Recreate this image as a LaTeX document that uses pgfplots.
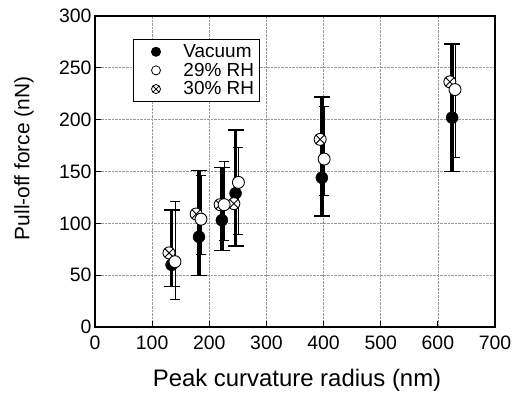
\documentclass[border=0pt]{standalone}
\usepackage{fontspec}
\setmainfont{Liberation Sans}
\usepackage{pgfplots}
\pgfplotsset{compat=1.18}
\usetikzlibrary{plotmarks}
\begin{document}
\begin{tikzpicture}
\begin{axis}[
  scale only axis, width=400bp, height=311bp,
  xmin=0, xmax=700, ymin=0, ymax=300,
  xtick={0,100,...,700}, ytick={0,50,...,300},
  tick align=inside, xtick pos=bottom, ytick pos=left,
  major tick length=6bp,
  grid=major, grid style={gray!80, densely dotted, line width=0.7pt},
  axis line style={line width=1.2pt},
  tick style={black, line width=0.8pt},
  /pgf/number format/assume math mode=true,
  ticklabel style={font=\fontsize{19.5}{19.5}\selectfont},
  xticklabel style={yshift=-5bp},
  xlabel={Peak curvature radius (nm)},
  ylabel={Pull-off force (nN)},
  xlabel style={font=\fontsize{24}{24}\selectfont, at={(axis description cs:0.505,-0.17)}, anchor=center},
  ylabel style={font=\fontsize{21}{21}\selectfont, at={(axis description cs:-0.1775,0.542)}, anchor=center},
  legend style={at={(axis description cs:0.095,0.926)}, anchor=north west, draw=black, line width=1pt,
    font=\fontsize{19}{19}\selectfont, inner xsep=4bp, inner ysep=3bp, row sep=0pt},
  legend cell align=left,
  legend image code/.code={\node[inner sep=0pt, minimum width=44bp, minimum height=1bp, draw=none, fill=none] at (22bp,0bp) {}; \draw[#1] plot coordinates {(22bp,0bp)};},
]
\addlegendimage{only marks, mark=*, mark size=4.5bp, black, mark options={xshift=19bp}}
\addlegendentry{Vacuum}
\addlegendimage{only marks, mark=*, mark size=4.5bp, black, fill=white, mark options={line width=0.8pt, xshift=19bp}}
\addlegendentry{29\% RH}
\addlegendimage{only marks, mark=otimes*, mark size=4.5bp, black, fill=white, mark options={line width=0.8pt, xshift=19bp}}
\addlegendentry{30\% RH}

% Vacuum
\addplot[forget plot, only marks, mark=*, mark size=6bp, black,
  error bars/.cd, y dir=both, y explicit,
  error bar style={line width=3.5bp},
  error mark options={rotate=90, mark size=8bp, line width=1.3pt}]
coordinates {
 (134,60) += (0,53) -= (0,21)
 (182,87) += (0,64) -= (0,37)
 (222,103) += (0,51) -= (0,29)
 (246,129) += (0,61) -= (0,51)
 (397,144) += (0,78) -= (0,37)
 (625,202) += (0,71) -= (0,52)
};

% 30% RH
\addplot[forget plot, only marks, mark=otimes*, mark size=6bp, black, fill=white,
  mark options={line width=0.9pt}]
coordinates {
 (129.5,71.5) (177,109) (219,118) (243,119) (394,181) (621,236.5)
};

% 29% RH
\addplot[forget plot, only marks, mark=*, mark size=6bp, black, fill=white,
  mark options={line width=0.9pt},
  error bars/.cd, y dir=both, y explicit,
  error bar style={line width=0.8pt, black},
  error mark options={rotate=90, mark size=5bp, line width=0.8pt, black}]
coordinates {
 (140,63) += (0,58) -= (0,36)
 (185.5,104) += (0,42) -= (0,34)
 (226,118) += (0,42) -= (0,34)
 (251,139.5) += (0,33.5) -= (0,50.5)
 (401,162) += (0,50.6) -= (0,35)
 (630,229) += (0,44) -= (0,65)
};
\end{axis}
\pgfresetboundingbox
\path[use as bounding box] ([xshift=-95bp,yshift=-68bp]current axis.south west) rectangle ([xshift=23bp,yshift=16bp]current axis.north east);
\end{tikzpicture}
\end{document}
